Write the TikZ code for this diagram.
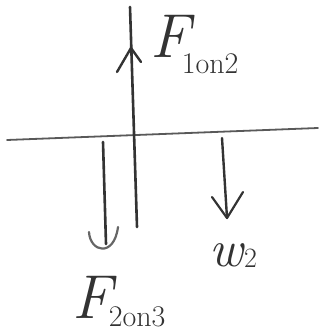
\documentclass[tikz,border=0pt]{standalone}
\usetikzlibrary{arrows.meta}
\begin{document}
\begin{tikzpicture}[x=1pt,y=-1pt,
  pen/.style={draw=black!80,line width=2.2pt,line cap=round,line join=round},
  lbl/.style={inner sep=0pt,text=black!80,anchor=base west}]
\useasboundingbox (0,0) rectangle (320,331);
% horizontal line
\coordinate (hl) at (7,140);
\coordinate (hr) at (318,128);
\draw[pen,line width=1.8pt,draw=black!65] (hl) -- (hr);
% vertical line with up arrow
\coordinate (vt) at (130,7);
\coordinate (vb) at (137,227);
\draw[pen,line width=2.6pt] (vt) -- (vb);
\coordinate (vtip) at (131,48);
\coordinate (vwl) at (117,72);
\coordinate (vwr) at (141,62);
\draw[pen,line width=2.4pt] (vwl) -- (vtip) -- (vwr);
% left arrow
\coordinate (la) at (103,142);
\coordinate (lb) at (106,244);
\draw[pen,line width=2.6pt] (la) -- (lb);
\coordinate (lhl) at (89,232);
\coordinate (lhr) at (118,227);
\draw[pen,draw=black!60,line width=2.2pt] (lhl) .. controls (90,252) and (114,258) .. (lhr);
% right arrow
\coordinate (ra) at (222,138);
\coordinate (rb) at (227,218);
\draw[pen,line width=2.4pt] (ra) -- (rb);
\coordinate (rwl) at (212,197);
\coordinate (rwr) at (243,192);
\draw[pen,line width=2.2pt] (rwl) -- (rb) -- (rwr);
% labels
\node[lbl] (f12) at (150,58) {\fontsize{62}{62}\selectfont\itshape F\kern-8pt\raisebox{-16pt}{\fontsize{30}{30}\selectfont\upshape 1on2}};
\node[lbl] (w2) at (209,266) {\fontsize{52}{52}\selectfont\itshape w\kern1pt\raisebox{-1pt}{\fontsize{28}{28}\selectfont\upshape 2}};
\node[lbl] (f23) at (72,318) {\fontsize{62}{62}\selectfont\itshape F\kern-3pt\raisebox{-8pt}{\fontsize{30}{30}\selectfont\upshape 2on3}};
\end{tikzpicture}
\end{document}
